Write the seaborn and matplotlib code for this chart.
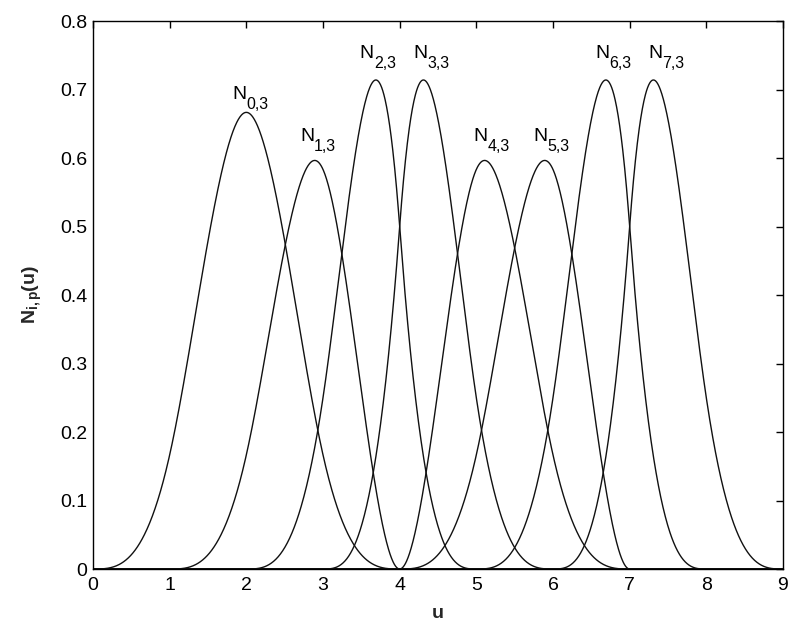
import numpy as np
import pandas as pd
import matplotlib
matplotlib.use("Agg")
import matplotlib.pyplot as plt
import seaborn as sns

# Knot vector and degree of the cubic B-spline basis
knots = [0, 1, 2, 3, 4, 4, 5, 6, 7, 7, 8, 9]
degree = 3
basis_ids = [0, 1, 2, 3, 4, 5, 6, 7]
x_ticks = [0, 1, 2, 3, 4, 5, 6, 7, 8, 9]
y_ticks = [0.0, 0.1, 0.2, 0.3, 0.4, 0.5, 0.6, 0.7, 0.8]

# placement of each curve label relative to its peak (left edge, baseline)
label_dx = [-0.18, -0.19, -0.21, -0.13, -0.15, -0.15, -0.14, -0.07]
label_dy = [0.019, 0.028, 0.032, 0.032, 0.028, 0.028, 0.032, 0.032]


def basis(i, p, t, u):
    """Cox-de Boor recursion for N_{i,p}(u)."""
    if p == 0:
        inside = (u >= t[i]) & (u < t[i + 1])
        if t[i + 1] == t[-1] and t[i] < t[i + 1]:
            inside |= u == t[i + 1]
        return inside.astype(float)
    out = np.zeros_like(u)
    d1 = t[i + p] - t[i]
    d2 = t[i + p + 1] - t[i + 1]
    if d1 > 0:
        out += (u - t[i]) / d1 * basis(i, p - 1, t, u)
    if d2 > 0:
        out += (t[i + p + 1] - u) / d2 * basis(i + 1, p - 1, t, u)
    return out


u = np.linspace(knots[0], knots[-1], 1801)
frames = []
for i in basis_ids:
    frames.append(pd.DataFrame({"u": u, "N": basis(i, degree, knots, u), "curve": i}))
df = pd.concat(frames, ignore_index=True)

sns.set_theme(style="white")
plt.rcParams["font.family"] = ["Liberation Sans", "DejaVu Sans"]
plt.rcParams["mathtext.fontset"] = "custom"
plt.rcParams["mathtext.rm"] = "Liberation Sans"
plt.rcParams["mathtext.it"] = "Liberation Sans:italic"
plt.rcParams["mathtext.bf"] = "Liberation Sans:bold"

fig = plt.figure(figsize=(7.97, 6.24), dpi=100)
ax = fig.add_axes([0.1167, 0.0881, 0.8657, 0.8782])

sns.lineplot(data=df, x="u", y="N", units="curve", estimator=None,
             color="#111111", linewidth=1.0, ax=ax, legend=False)

for i in basis_ids:
    sub = df[df["curve"] == i]
    k = sub["N"].values.argmax()
    lx = sub["u"].values[k] + label_dx[i]
    ly = sub["N"].values[k] + label_dy[i]
    ax.text(lx, ly, "N", ha="left", va="baseline", fontsize=14, color="black")
    ax.annotate(f"{i},{degree}", xy=(lx, ly), xycoords="data",
                xytext=(10.2, -7.0), textcoords="offset points",
                ha="left", va="baseline", fontsize=11.5, color="black")

ax.set_xlim(0, 9)
ax.set_ylim(0, 0.8)
ax.set_xticks(x_ticks)
ax.set_xticklabels([str(v) for v in x_ticks])
ax.set_yticks(y_ticks)
ax.set_yticklabels(["0"] + [f"{v:.1f}" for v in y_ticks[1:]])
ax.tick_params(direction="in", length=5, width=1, top=True, right=True,
               labelsize=14, colors="black")
ax.tick_params(axis="x", pad=6)
ax.tick_params(axis="y", pad=4)
for s in ax.spines.values():
    s.set_color("black")
    s.set_linewidth(1.0)

ax.set_xlabel("u", fontsize=14, fontweight="bold", labelpad=8)
ax.set_ylabel(r"$\mathbf{N_{i,p}(u)}$", fontsize=14, labelpad=12)

fig.savefig("out.png", dpi=100)
